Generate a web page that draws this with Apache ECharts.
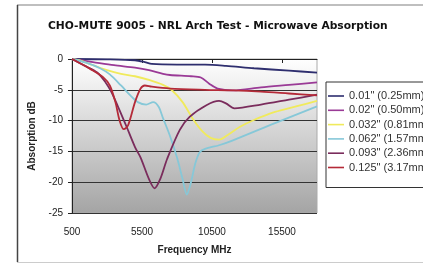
<!DOCTYPE html>
<html>
<head>
<meta charset="utf-8">
<script src="https://cdn.jsdelivr.net/npm/echarts@6.0.0/dist/echarts.min.js"></script>
<style>
html, body { margin: 0; padding: 0; background: #fff; }
#chart { width: 423px; height: 264px; }
</style>
</head>
<body>
<div id="chart"></div>
<script>
// values: [frequency MHz, absorption dB]
var seriesNames = ['0.01" (0.25mm)', '0.02" (0.50mm)', '0.032" (0.81mm)', '0.062" (1.57mm)', '0.093" (2.36mm)', '0.125" (3.17mm)'];
var xTicks = [500, 5500, 10500, 15500];

var data010 = [[500,0],[3000,-0.05],[5000,-0.2],[5700,-0.5],[6200,-0.8],[8000,-0.9],[10000,-0.9],[11500,-1.1],[13500,-1.5],[16000,-1.9],[18000,-2.2]];
var data020 = [[500,0],[2000,-0.5],[3500,-1.0],[5000,-1.4],[6000,-1.8],[7000,-2.4],[7500,-2.6],[9000,-2.8],[9700,-3.0],[10300,-4.0],[10900,-4.8],[12000,-5.1],[14000,-4.6],[16000,-4.2],[18000,-3.8]];
var data032 = [[500,0],[1000,-0.2],[2000,-1.0],[3000,-1.8],[4000,-2.4],[5000,-2.8],[6000,-3.4],[7000,-4.2],[7600,-5.0],[8400,-7.0],[9100,-9.6],[9800,-11.7],[10400,-12.8],[11000,-13.1],[11700,-12.2],[12500,-11.0],[13500,-9.9],[15000,-8.6],[16500,-7.7],[18000,-6.8]];
var data062 = [[500,0],[1500,-0.6],[2500,-1.5],[3200,-2.5],[4000,-4.3],[4700,-6.0],[5200,-7.0],[5800,-7.4],[6300,-7.0],[6700,-7.8],[7000,-9.6],[7500,-12.5],[8000,-16],[8400,-19.5],[8700,-22],[9000,-20],[9300,-17],[9600,-15.2],[10000,-14.6],[11000,-14.0],[12000,-13.2],[15000,-10.4],[18000,-7.7]];
var data093 = [[500,0],[1500,-1.2],[2300,-2.2],[2900,-3.8],[3300,-5.3],[3800,-7.8],[4400,-11],[5000,-14.3],[5400,-16],[6000,-19.5],[6400,-21],[6800,-19.5],[7300,-16.2],[8200,-11.5],[8900,-9.4],[10100,-7.5],[11000,-6.8],[11500,-7.2],[12100,-8.0],[14000,-7.4],[16000,-6.6],[18000,-5.8]];
var data125 = [[500,0],[1000,-0.6],[1800,-1.6],[2700,-2.9],[3200,-4.3],[3600,-7],[3900,-10],[4200,-11.4],[4500,-10.8],[5000,-7],[5400,-4.8],[5700,-4.3],[6200,-4.5],[7500,-4.8],[10000,-5.0],[12000,-5.1],[14000,-5.3],[16000,-5.6],[18000,-5.9]];

var allData = [data010, data020, data032, data062, data093, data125];
var colors = ['#2e2e6e', '#9a3a96', '#f0ea5c', '#86c8d8', '#7a2c5c', '#b42a38'];

// thin bar in the middle of the legend item box
var lineIcon = 'path://M0,0 M16,12 M0,5.2 L16,5.2 L16,6.8 L0,6.8 Z';

var dom = document.getElementById('chart');
var myChart = echarts.init(dom);

var series = [];
var legenddata = [];
for (var i = 0; i < allData.length; i++) {
    legenddata.push({ name: seriesNames[i], icon: lineIcon });
    series.push({
        name: seriesNames[i],
        type: 'line',
        data: allData[i],
        smooth: 0.3,
        symbol: 'none',
        lineStyle: { width: 1.8, color: colors[i] },
        itemStyle: { color: colors[i] }
    });
}

var option = {
    animation: false,
    title: {
        text: 'CHO-MUTE 9005 - NRL Arch Test - Microwave Absorption',
        left: 43,
        top: 16,
        textStyle: {
            fontFamily: 'DejaVu Sans',
            fontSize: 10.7,
            fontWeight: 'bold',
            color: '#111'
        }
    },
    graphic: [
        { type: 'line', shape: { x1: 17, y1: 5, x2: 423, y2: 5 }, style: { stroke: '#aaa', lineWidth: 1.5 } },
        { type: 'line', shape: { x1: 17.5, y1: 5, x2: 17.5, y2: 262 }, style: { stroke: '#444', lineWidth: 1.5 } },
        { type: 'line', shape: { x1: 17, y1: 262.5, x2: 423, y2: 262.5 }, style: { stroke: '#ccc', lineWidth: 1 } }
    ],
    legend: {
        orient: 'vertical',
        left: 326,
        top: 82,
        data: legenddata,
        itemWidth: 16,
        itemHeight: 12,
        itemGap: 2.3,
        padding: [8, 30, 14, 2],
        borderColor: '#333',
        borderWidth: 1,
        textStyle: {
            fontFamily: 'Liberation Sans',
            fontSize: 11,
            color: '#333',
            lineHeight: 12
        }
    },
    grid: {
        left: 72,
        top: 59,
        width: 245,
        height: 154,
        show: true,
        borderColor: '#aaa',
        borderWidth: 1,
        backgroundColor: {
            type: 'linear', x: 0, y: 0, x2: 0, y2: 1,
            colorStops: [{ offset: 0, color: '#ffffff' }, { offset: 1, color: '#a4a4a4' }]
        }
    },
    xAxis: {
        type: 'value',
        min: 500,
        max: 18000,
        interval: 5000,
        name: 'Frequency MHz',
        nameLocation: 'middle',
        nameGap: 32,
        nameTextStyle: { fontFamily: 'Liberation Sans', fontSize: 10, fontWeight: 'bold', color: '#222' },
        axisLine: { lineStyle: { color: '#222', width: 1 } },
        axisTick: { show: true, length: 4, customValues: xTicks, lineStyle: { color: '#222' } },
        axisLabel: {
            customValues: xTicks,
            margin: 14,
            fontFamily: 'Liberation Sans',
            fontSize: 10,
            color: '#222',
            formatter: function (v) { return String(v); }
        },
        splitLine: { show: false }
    },
    yAxis: {
        type: 'value',
        min: -25,
        max: 0,
        interval: 5,
        name: 'Absorption dB',
        nameLocation: 'middle',
        nameGap: 29,
        nameTextStyle: { fontFamily: 'Liberation Sans', fontSize: 10, fontWeight: 'bold', color: '#222' },
        axisLine: { show: true, lineStyle: { color: '#222', width: 1 } },
        axisTick: { show: true, length: 4, lineStyle: { color: '#222' } },
        axisLabel: { margin: 9, fontFamily: 'Liberation Sans', fontSize: 10, color: '#222' },
        splitLine: { show: true, lineStyle: { color: ['#333', '#333', '#333', '#333', '#333', '#aaa'], width: 1 } }
    },
    color: colors,
    series: series
};

if (option && typeof option === "object") {
    myChart.setOption(option, true);
    window.onresize = myChart.resize;
}
</script>
</body>
</html>
